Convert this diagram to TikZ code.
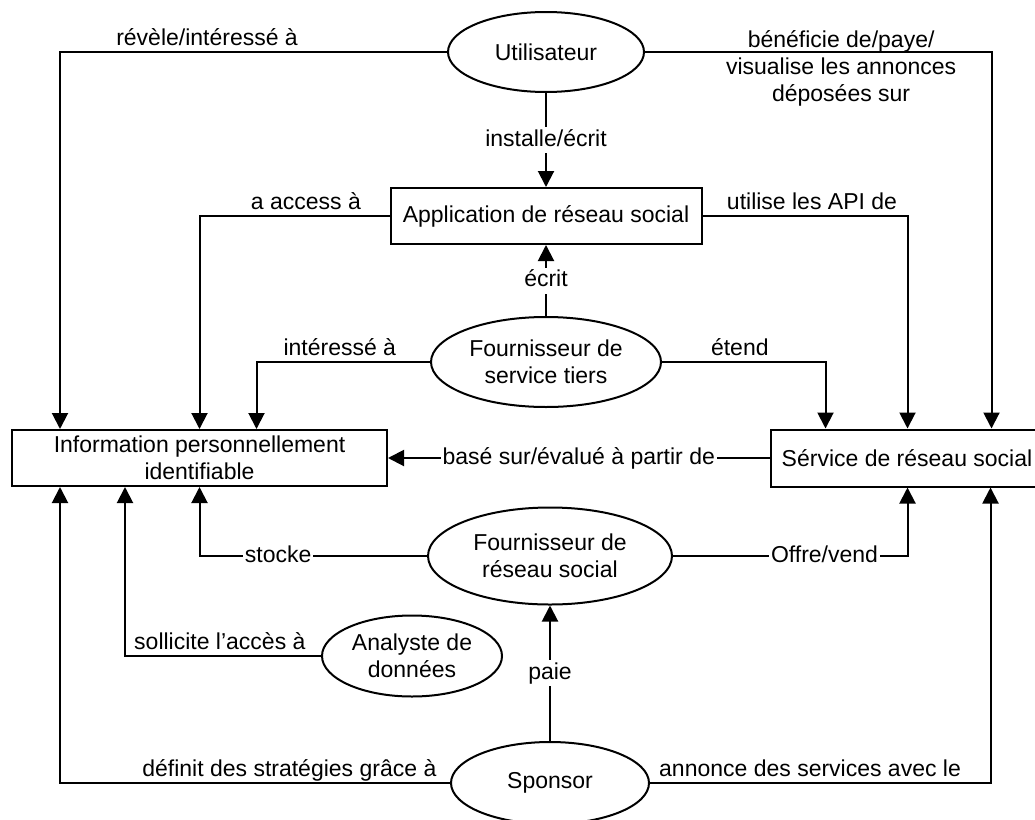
\documentclass[tikz,border=0pt]{standalone}
\usepackage{fontspec}
\setmainfont{Liberation Sans}
\usepackage{tikz}
\usetikzlibrary{shapes.geometric, arrows.meta}

\begin{document}
\begin{tikzpicture}[x=1pt, y=-1pt, line width=2pt,
    font=\fontsize{23}{27}\selectfont,
    acteur/.style={ellipse, draw, inner sep=0pt, align=center},
    boite/.style={rectangle, draw, inner sep=0pt, align=center},
    fl/.style={-{Triangle[length=16pt,width=16pt]}},
    lab/.style={inner sep=1pt, text height=17pt, text depth=5pt},
    surligne/.style={lab, fill=white, inner sep=2pt}]
\useasboundingbox (0,0) rectangle (1035,819);
%
\node[acteur, minimum width=196pt, minimum height=80pt] (util) at (546,52) {Utilisateur};
\node[boite, minimum width=311pt, minimum height=56pt] (app) at (546,216) {Application de réseau social};
\node[acteur, minimum width=230pt, minimum height=90pt] (fst) at (546,362) {Fournisseur de\\service tiers};
\node[boite, minimum width=375pt, minimum height=56pt] (pii) at (199.5,458) {Information personnellement\\identifiable};
\node[boite, minimum width=273pt, minimum height=57pt] (srv) at (907,458) {Sérvice de réseau social};
\node[acteur, minimum width=244pt, minimum height=97pt] (frs) at (550,556) {Fournisseur de\\réseau social};
\node[acteur, minimum width=180pt, minimum height=81pt] (ana) at (412,656) {Analyste de\\données};
\node[acteur, minimum width=198pt, minimum height=82pt] (spo) at (550,783) {Sponsor};
%
\draw[fl] (util.west) -| node[lab, above, pos=.31] {révèle/intéressé à} ([xshift=49pt]pii.north west);
\draw[fl] (util.east) -| node[pos=.283, yshift=-16pt, align=center] {bénéficie de/paye/\\visualise les annonces\\déposées sur} ([xshift=222pt]srv.north west);
\draw[fl] (util) -- node[surligne] {installe/écrit} (app);
\draw[fl] (app.west) -| node[lab, above, pos=.22] {a access à} (pii.north);
\draw[fl] (app.east) -| node[lab, above, pos=.267] {utilise les API de} ([xshift=138pt]srv.north west);
\draw[fl] (fst) -- node[surligne] {écrit} (app);
\draw[fl] (fst.west) -| node[lab, above, pos=.26] {intéressé à} ([xshift=57pt]pii.north);
\draw[fl] (fst.east) -| node[lab, above, pos=.238] {étend} ([xshift=56pt]srv.north west);
\draw[fl] (srv) -- node[surligne] {basé sur/évalué à partir de} (pii);
%
\draw[fl] (frs.west) -| node[surligne, pos=.327] {stocke} (pii.south);
\draw[fl] (frs.east) -| node[surligne, pos=.323] {Offre/vend} ([xshift=138pt]srv.south west);
\draw[fl] (ana.west) -| node[lab, above, pos=.258] {sollicite l’accès à} ([xshift=114pt]pii.south west);
\draw[fl] (spo) -- node[surligne] {paie} (frs);
\draw[fl] (spo.west) -| node[lab, above, pos=.206] {définit des stratégies grâce à} ([xshift=49pt]pii.south west);
\draw[fl] (spo.east) -| node[lab, above, pos=.235] {annonce des services avec le} ([xshift=221pt]srv.south west);
%
\end{tikzpicture}
\end{document}
